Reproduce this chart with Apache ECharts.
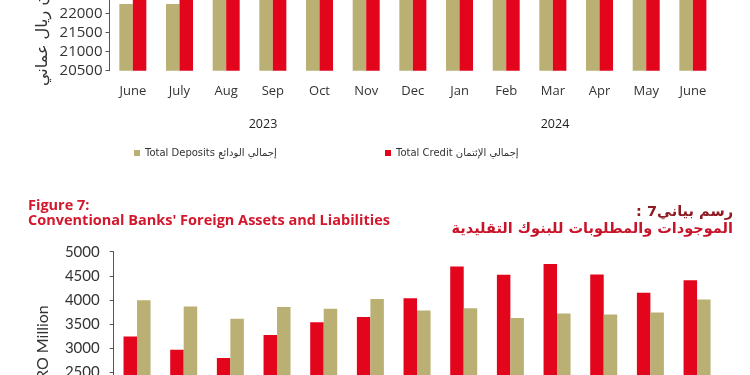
<!DOCTYPE html>
<html>
<head>
<meta charset="utf-8">
<script src="https://cdn.jsdelivr.net/npm/echarts@6/dist/echarts.min.js"></script>
<style>
html,body{margin:0;padding:0;background:#fff;}
#c{width:750px;height:375px;}
</style>
</head>
<body>
<div id="c"></div>
<script>
// Top chart (Total credit & deposits, RO million)
const months = ['June','July','Aug','Sep','Oct','Nov','Dec','Jan','Feb','Mar','Apr','May','June'];
const totalDeposits = [22240, 22240, 22600, 22700, 22800, 22900, 23200, 23100, 23300, 23500, 23600, 23700, 23900];
const totalCredit   = [23600, 23700, 23800, 23900, 24000, 24100, 24200, 24300, 24400, 24500, 24600, 24700, 24800];
const years = ['2023', '2024'];
// Bottom chart (Figure 7: conventional banks' foreign assets & liabilities, RO million)
const foreignAssets      = [3240, 2965, 2790, 3270, 3535, 3645, 4035, 4695, 4520, 4745, 4525, 4145, 4405];
const foreignLiabilities = [3990, 3860, 3605, 3850, 3815, 4020, 3780, 3825, 3625, 3715, 3695, 3735, 4005];

const TAN = '#bab074';
const RED = '#e3051b';
const TXT = '#333333';
const plain = v => String(v);

const chart = echarts.init(document.getElementById('c'), null, {renderer: 'canvas'});
chart.setOption({
  backgroundColor: '#ffffff',
  animation: false,
  grid: [
    {left: 109.5, right: 33.8, top: -101.5, height: 172.2, outerBoundsMode: 'none', containLabel: false},
    {left: 113.7, right: 29.6, top: 251.7, height: 240.7, outerBoundsMode: 'none', containLabel: false}
  ],
  legend: [
    {
      data: ['Total Deposits إجمالي الودائع'],
      left: 129, top: 143, itemWidth: 6, itemHeight: 6, icon: 'rect', itemGap: 4,
      textStyle: {fontSize: 10, color: TXT, fontFamily: 'DejaVu Sans'}
    },
    {
      data: ['Total Credit إجمالي الإئتمان'],
      left: 380, top: 143, itemWidth: 6, itemHeight: 6, icon: 'rect', itemGap: 4,
      textStyle: {fontSize: 10, color: TXT, fontFamily: 'DejaVu Sans'}
    }
  ],
  xAxis: [
    {
      type: 'category', gridIndex: 0, data: months,
      axisLine: {show: false}, axisTick: {show: false},
      axisLabel: {color: TXT, fontSize: 13, margin: 14, fontFamily: 'Open Sans'}
    },
    {
      type: 'category', gridIndex: 1, data: months, show: false
    }
  ],
  yAxis: [
    {
      type: 'value', gridIndex: 0, min: 20500, max: 25000, interval: 500,
      axisLine: {show: true, lineStyle: {color: '#555', width: 1}},
      axisTick: {show: true, length: 4, lineStyle: {color: '#555'}},
      splitLine: {show: false},
      axisLabel: {color: TXT, fontSize: 15, margin: 7, fontFamily: 'Open Sans', formatter: plain}
    },
    {
      type: 'value', gridIndex: 1, min: 0, max: 5000, interval: 500,
      axisLine: {show: true, lineStyle: {color: '#555', width: 1}},
      axisTick: {show: true, length: 4, lineStyle: {color: '#555'}},
      splitLine: {show: false},
      axisLabel: {color: TXT, fontSize: 15, margin: 14, fontFamily: 'Lato', formatter: plain}
    }
  ],
  series: [
    {name: 'Total Deposits إجمالي الودائع', type: 'bar', xAxisIndex: 0, yAxisIndex: 0,
     data: totalDeposits, barWidth: 13.5, barGap: '0%', itemStyle: {color: TAN}},
    {name: 'Total Credit إجمالي الإئتمان', type: 'bar', xAxisIndex: 0, yAxisIndex: 0,
     data: totalCredit, barWidth: 13.5, barGap: '0%', itemStyle: {color: RED}},
    {name: 'Foreign Assets', type: 'bar', xAxisIndex: 1, yAxisIndex: 1,
     data: foreignAssets, barWidth: 13.5, barGap: '0%', itemStyle: {color: RED}},
    {name: 'Foreign Liabilities', type: 'bar', xAxisIndex: 1, yAxisIndex: 1,
     data: foreignLiabilities, barWidth: 13.5, barGap: '0%', itemStyle: {color: TAN}}
  ],
  graphic: [
    {type: 'text', x: 263, y: 124, style: {text: years[0], fill: '#222', fontSize: 12.5, fontFamily: 'Open Sans', align: 'center', verticalAlign: 'middle'}},
    {type: 'text', x: 555, y: 124, style: {text: years[1], fill: '#222', fontSize: 12.5, fontFamily: 'Open Sans', align: 'center', verticalAlign: 'middle'}},
    {type: 'text', x: 43, y: 86, rotation: Math.PI / 2,
     style: {text: 'مليون ريال عماني', fill: TXT, fontSize: 16, fontFamily: 'DejaVu Sans', align: 'left', verticalAlign: 'middle'}},
    {type: 'text', x: 43, y: 380, rotation: Math.PI / 2,
     style: {text: 'RO Million', fill: TXT, fontSize: 16, fontFamily: 'Lato', align: 'left', verticalAlign: 'middle'}},
    {type: 'text', x: 28, y: 206, style: {text: 'Figure 7:', fill: '#d3172c', fontSize: 14.5, fontWeight: 'bold', fontFamily: 'Open Sans', align: 'left', verticalAlign: 'middle'}},
    {type: 'text', x: 28, y: 221, style: {text: "Conventional Banks' Foreign Assets and Liabilities", fill: '#d3172c', fontSize: 14.5, fontWeight: 'bold', fontFamily: 'Open Sans', align: 'left', verticalAlign: 'middle'}},
    {type: 'text', x: 733, y: 212, style: {text: '\u200Fرسم بياني7 :\u200F', fill: '#8e1b22', fontSize: 14.5, fontWeight: 'bold', fontFamily: 'DejaVu Sans', align: 'right', verticalAlign: 'middle'}},
    {type: 'text', x: 733, y: 229, style: {text: 'الموجودات والمطلوبات للبنوك التقليدية', fill: '#c8142a', fontSize: 14.5, fontWeight: 'bold', fontFamily: 'DejaVu Sans', align: 'right', verticalAlign: 'middle'}}
  ]
});
</script>
</body>
</html>
